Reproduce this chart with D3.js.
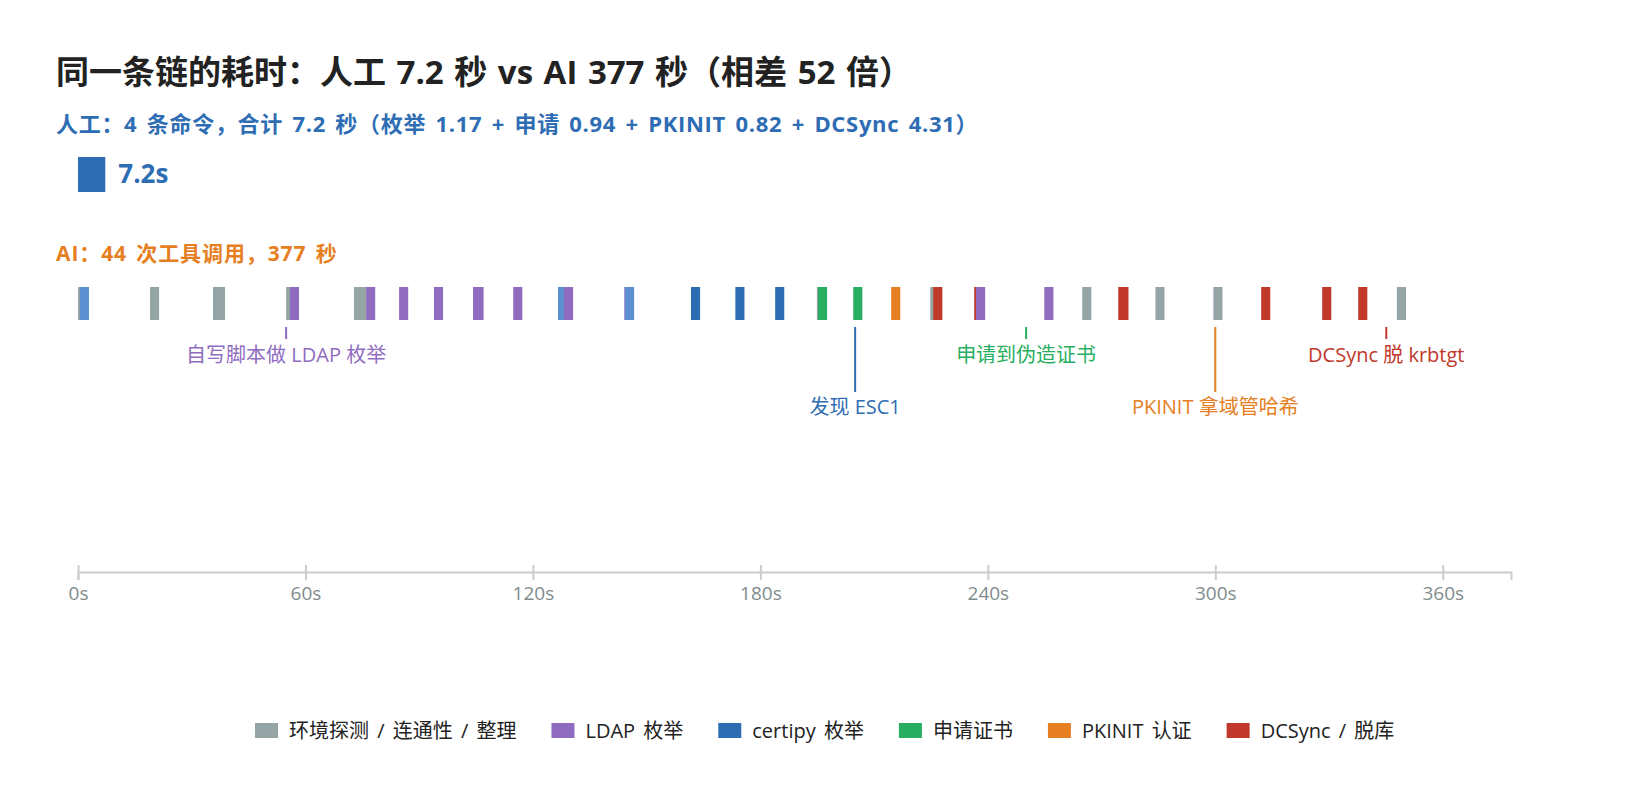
<!DOCTYPE html>
<html>
<head>
<meta charset="utf-8">
<script src="https://cdn.jsdelivr.net/npm/d3@7"></script>
<style>
  body { margin: 0; background: #fff; }
  svg text { font-family: "Open Sans", "Noto Sans CJK SC", sans-serif; }
</style>
</head>
<body>
<svg id="chart" width="1649" height="799"></svg>
<script>
// categories
var catKeys   = ["env", "ldap", "certipy", "req", "pkinit", "dcsync", "misc"];
var catLabels = ["环境探测 / 连通性 / 整理", "LDAP 枚举", "certipy 枚举", "申请证书", "PKINIT 认证", "DCSync / 脱库", ""];
var catColors = ["#95a5a6", "#8f6cc0", "#2e6db4", "#27ae60", "#e67e22", "#c0392b", "#5b8fd0"];
var legendKeys = ["env", "ldap", "certipy", "req", "pkinit", "dcsync"];

// AI tool calls: start second + category
var callStart = [0, 0.5, 19.0, 35.6, 36.4, 54.9, 55.9, 72.8, 73.6, 76.0,
                 84.7, 93.9, 104.2, 104.6, 114.8, 126.6, 128.2, 144.1, 144.3, 161.7,
                 173.4, 183.9, 194.9, 195.2, 204.5, 214.5, 224.8, 225.6, 236.4, 236.9,
                 254.9, 264.9, 274.4, 274.7, 284.2, 299.5, 312.1, 328.2, 337.7, 347.9];
var callCat   = ["env", "misc", "env", "env", "env", "env", "ldap", "env", "env", "ldap",
                 "ldap", "ldap", "ldap", "ldap", "ldap", "misc", "ldap", "ldap", "misc", "certipy",
                 "certipy", "certipy", "env", "req", "req", "pkinit", "env", "dcsync", "dcsync", "ldap",
                 "ldap", "env", "dcsync", "dcsync", "env", "env", "dcsync", "dcsync", "dcsync", "env"];
var callDur = 2.4;

// human run
var humanTotal = 7.2;

// milestones
var noteTime = [54.9, 205.0, 250.1, 300.0, 345.1];
var noteText = ["自写脚本做 LDAP 枚举", "发现 ESC1", "申请到伪造证书", "PKINIT 拿域管哈希", "DCSync 脱 krbtgt"];
var noteCat  = ["ldap", "certipy", "req", "pkinit", "dcsync"];
var noteLong = [false, true, false, true, false];

var axisTicks = [0, 60, 120, 180, 240, 300, 360];
var axisMax = 378;

var color = d3.scaleOrdinal().domain(catKeys).range(catColors);
var labelOf = d3.scaleOrdinal().domain(catKeys).range(catLabels);

var svg = d3.select("#chart");
var x = d3.scaleLinear().domain([0, axisMax]).range([78, 1511]);

// title + subtitles
svg.append("text").attr("x", 56).attr("y", 84)
    .attr("font-size", 33).attr("font-weight", "bold").attr("fill", "#222")
    .attr("word-spacing", 2)
    .text("同一条链的耗时：人工 7.2 秒 vs AI 377 秒（相差 52 倍）");

svg.append("text").attr("x", 56).attr("y", 132)
    .attr("font-size", 22).attr("font-weight", "bold").attr("fill", "#2e6db4")
    .attr("letter-spacing", 0.7).attr("word-spacing", 3)
    .text("人工：4 条命令，合计 7.2 秒（枚举 1.17 + 申请 0.94 + PKINIT 0.82 + DCSync 4.31）");

svg.append("rect")
    .attr("x", x(0)).attr("y", 157)
    .attr("width", x(humanTotal) - x(0)).attr("height", 35)
    .attr("fill", "#2e6db4");
svg.append("text").attr("x", x(humanTotal) + 13).attr("y", 183)
    .attr("font-size", 26).attr("font-weight", "bold").attr("fill", "#2e6db4")
    .text(humanTotal + "s");

svg.append("text").attr("x", 56).attr("y", 261)
    .attr("font-size", 21).attr("font-weight", "bold").attr("fill", "#e67e22")
    .attr("letter-spacing", 0.9).attr("word-spacing", 3)
    .text("AI：44 次工具调用，377 秒");

// AI call bars
var calls = callStart.map(function(t, i){ return {t: t, cat: callCat[i]}; });
svg.append("g")
    .selectAll("rect")
    .data(calls)
    .enter()
    .append("rect")
    .attr("x", function(d){ return x(d.t); })
    .attr("y", 287)
    .attr("width", function(d){ return x(d.t + callDur) - x(d.t); })
    .attr("height", 33)
    .attr("fill", function(d){ return color(d.cat); });

// milestone notes
var notes = noteTime.map(function(t, i){
    return {t: t, text: noteText[i], cat: noteCat[i], long: noteLong[i]};
});
var ng = svg.append("g").selectAll("g").data(notes).enter().append("g");
ng.append("line")
    .attr("x1", function(d){ return x(d.t); })
    .attr("x2", function(d){ return x(d.t); })
    .attr("y1", 327)
    .attr("y2", function(d){ return d.long ? 392 : 339; })
    .attr("stroke", function(d){ return color(d.cat); })
    .attr("stroke-width", 2);
ng.append("text")
    .attr("x", function(d){ return x(d.t); })
    .attr("y", function(d){ return d.long ? 414 : 362; })
    .attr("text-anchor", "middle")
    .attr("font-size", 20)
    .attr("fill", function(d){ return color(d.cat); })
    .text(function(d){ return d.text; });

// time axis
var axis = svg.append("g")
    .attr("transform", "translate(0,572)")
    .call(d3.axisBottom(x).tickValues(axisTicks).tickSize(8).tickPadding(7)
        .tickFormat(function(d){ return d + "s"; }));
axis.select(".domain").attr("stroke", "#cccccc").attr("stroke-width", 2);
axis.selectAll(".tick line").attr("stroke", "#cccccc").attr("stroke-width", 2).attr("y1", -7);
axis.selectAll(".tick text").attr("fill", "#7f8c8d").attr("font-size", 19)
    .style("font-family", '"Open Sans", "Noto Sans CJK SC", sans-serif');

// legend
var lg = svg.append("g");
var items = lg.selectAll("g").data(legendKeys).enter().append("g");
items.append("rect").attr("width", 23).attr("height", 15).attr("y", 723)
    .attr("fill", function(d){ return color(d); });
items.append("text").attr("x", 34).attr("y", 738)
    .attr("font-size", 20).attr("fill", "#222").attr("word-spacing", 3)
    .text(function(d){ return labelOf(d); });
var pos = 0;
items.each(function(){
    var w = d3.select(this).select("text").node().getComputedTextLength();
    d3.select(this).attr("transform", "translate(" + pos + ",0)");
    pos += 34 + w + 35;
});
pos -= 35;
lg.attr("transform", "translate(" + Math.round((1649 - pos) / 2) + ",0)");
</script>
</body>
</html>
